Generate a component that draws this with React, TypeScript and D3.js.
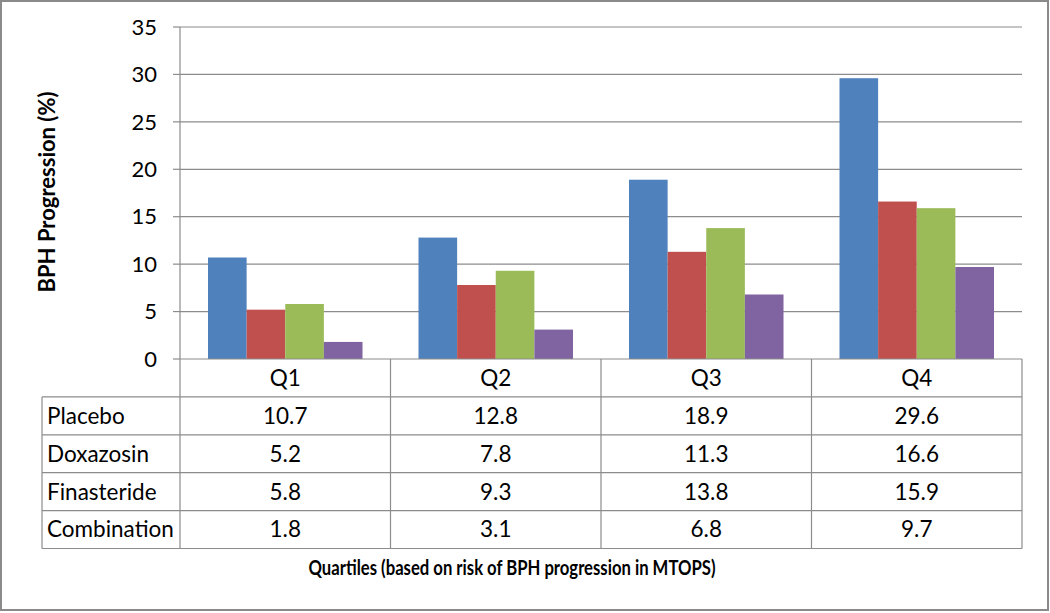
import React from "react";
import * as d3 from "d3";

const categories = ["Q1", "Q2", "Q3", "Q4"];
const seriesNames = ["Placebo", "Doxazosin", "Finasteride", "Combination"];
const placebo = [10.7, 12.8, 18.9, 29.6];
const doxazosin = [5.2, 7.8, 11.3, 16.6];
const finasteride = [5.8, 9.3, 13.8, 15.9];
const combination = [1.8, 3.1, 6.8, 9.7];
const yTicks = [0, 5, 10, 15, 20, 25, 30, 35];
const colors = ["#4F81BD", "#C0504D", "#9BBB59", "#8064A2"];

const series = [placebo, doxazosin, finasteride, combination];

const W = 1050;
const H = 613;
const plotL = 180;
const plotR = 1022;
const plotT = 27;
const plotB = 359;
const tableL = 42;
const rowH = 37.9;
const FONT = "Lato, 'Open Sans', sans-serif";
const GRID = "#8c8c8c";

export default function App() {
  const x = d3.scaleBand<string>().domain(categories).range([plotL, plotR]).padding(0);
  const bw = x.bandwidth();
  const gap = bw * 0.133;
  const inner = d3
    .scaleBand<string>()
    .domain(seriesNames)
    .range([gap, bw - gap])
    .padding(0);
  const y = d3.scaleLinear().domain([0, 35]).range([plotB, plotT]);

  const tableTop = plotB;
  const headerBottom = tableTop + rowH;
  const tableBottom = headerBottom + rowH * seriesNames.length;

  return (
    <svg
      width={W}
      height={H}
      style={{ position: "absolute", left: 0, top: 0, background: "#fff" }}
      fontFamily={FONT}
    >
      <rect x={1} y={1} width={W - 3} height={H - 4} fill="#fff" stroke="#8a8a8a" strokeWidth={2} />

      {/* gridlines */}
      {yTicks.map((t) => (
        <g key={t}>
          {t > 0 && <line x1={plotL} x2={plotR} y1={y(t)} y2={y(t)} stroke={GRID} strokeWidth={1.2} />}
          <line x1={plotL - 7} x2={plotL} y1={y(t)} y2={y(t)} stroke={GRID} strokeWidth={1.2} />
          <text x={157} y={y(t)} dy="0.35em" textAnchor="end" fontSize={22} fill="#000">
            {t}
          </text>
        </g>
      ))}

      {/* bars */}
      {categories.map((c, ci) => (
        <g key={c} transform={`translate(${x(c)},0)`}>
          {series.map((s, si) => (
            <rect
              key={si}
              x={inner(seriesNames[si])}
              y={y(s[ci])}
              width={inner.bandwidth()}
              height={y(0) - y(s[ci])}
              fill={colors[si]}
            />
          ))}
        </g>
      ))}

      {/* axis line */}
      <line x1={plotL} x2={plotL} y1={plotT} y2={tableBottom} stroke={GRID} strokeWidth={1.2} />

      {/* table */}
      <g stroke={GRID} strokeWidth={1.2}>
        <line x1={plotL} x2={plotR} y1={tableTop} y2={tableTop} />
        {categories.map((c) => (
          <line key={c} x1={(x(c) as number) + bw} x2={(x(c) as number) + bw} y1={tableTop} y2={tableBottom} />
        ))}
        <line x1={tableL} x2={tableL} y1={headerBottom} y2={tableBottom} />
        {d3.range(seriesNames.length + 1).map((i) => (
          <line key={i} x1={tableL} x2={plotR} y1={headerBottom + i * rowH} y2={headerBottom + i * rowH} />
        ))}
      </g>
      {categories.map((c) => (
        <text
          key={c}
          x={(x(c) as number) + bw / 2}
          y={tableTop + rowH / 2}
          dy="0.35em"
          textAnchor="middle"
          fontSize={22.5}
        >
          {c}
        </text>
      ))}
      {seriesNames.map((n, si) => (
        <g key={n}>
          <text x={tableL + 5} y={headerBottom + rowH * (si + 0.5)} dy="0.35em" fontSize={22.5}>
            {n}
          </text>
          {categories.map((c, ci) => (
            <text
              key={c}
              x={(x(c) as number) + bw / 2}
              y={headerBottom + rowH * (si + 0.5)}
              dy="0.35em"
              textAnchor="middle"
              fontSize={22.5}
            >
              {series[si][ci].toFixed(1)}
            </text>
          ))}
        </g>
      ))}

      {/* titles */}
      <text
        transform={`translate(47,${(plotT + plotB) / 2 - 1}) rotate(-90)`}
        textAnchor="middle"
        dy="0.35em"
        fontSize={22}
        fontWeight="bold"
      >
        BPH Progression (%)
      </text>
      <text
        x={512}
        y={568}
        dy="0.35em"
        textAnchor="middle"
        fontSize={20.5}
        fontWeight="bold"
        textLength={407}
        lengthAdjust="spacingAndGlyphs"
      >
        Quartiles (based on risk of BPH progression in MTOPS)
      </text>
    </svg>
  );
}
